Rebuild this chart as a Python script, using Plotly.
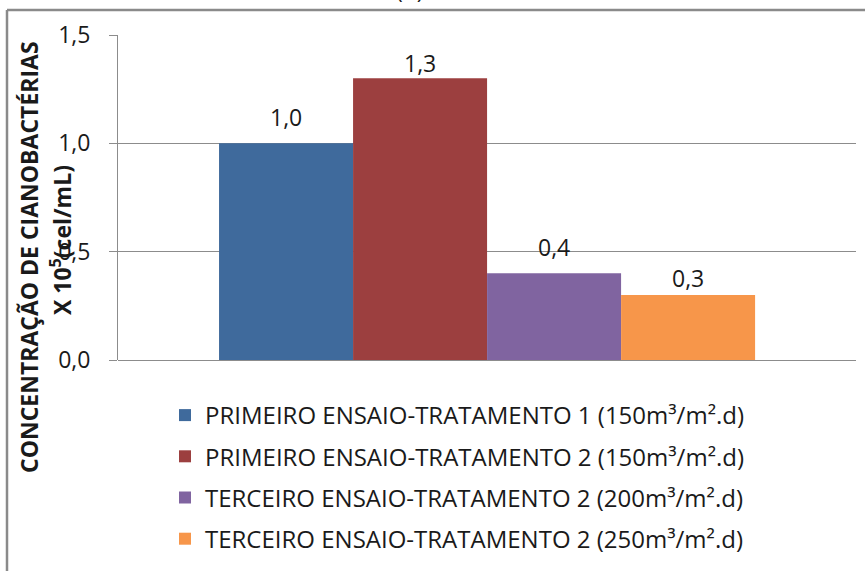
import plotly.graph_objects as go

# Series shown in the chart (one bar each)
series_names = [
    "PRIMEIRO ENSAIO-TRATAMENTO 1 (150m³/m².d)",
    "PRIMEIRO ENSAIO-TRATAMENTO 2 (150m³/m².d)",
    "TERCEIRO ENSAIO-TRATAMENTO 2 (200m³/m².d)",
    "TERCEIRO ENSAIO-TRATAMENTO 2 (250m³/m².d)",
]
values = [1.0, 1.3, 0.4, 0.3]
bar_colors = ["#3F6A9C", "#9C3F3F", "#8064A0", "#F7964A"]
y_ticks = [0.0, 0.5, 1.0, 1.5]
label_shift = [8, -3, 8, -1]  # vertical offset of each value label (px)

FONT = "Open Sans"
TXT = "#1a1a1a"
GRID = "#8c8c8c"

W, H = 865, 571
L, R, T, B = 118, 9, 35, 211
pw, ph = W - L - R, H - T - B


def px_x(x):
    return (x - L) / pw


def px_y(y):
    return (H - B - y) / ph


fig = go.Figure()
for i, (name, v, c) in enumerate(zip(series_names, values, bar_colors)):
    fig.add_trace(go.Bar(
        x=[i], y=[v], width=1, name=name,
        marker=dict(color=c, line=dict(width=0)),
        legendgroup=f"g{i}",
        hoverinfo="skip",
    ))

annotations = []
for i, (v, s) in enumerate(zip(values, label_shift)):
    annotations.append(dict(
        x=i, y=v, xref="x", yref="y",
        text=f"{v:.1f}".replace(".", ","),
        showarrow=False, yanchor="bottom", yshift=s,
        font=dict(family=FONT, size=23, color=TXT),
    ))

# axis title, two lines
annotations.append(dict(
    x=px_x(28.5), y=px_y(257.5), xref="paper", yref="paper",
    text="<b>CONCENTRAÇÃO DE CIANOBACTÉRIAS</b>", textangle=-90,
    showarrow=False, xanchor="center", yanchor="middle",
    font=dict(family=FONT, size=23, color=TXT),
))
annotations.append(dict(
    x=px_x(61), y=px_y(240), xref="paper", yref="paper",
    text="<b>X 10<sup>5</sup>(cel/mL)</b>", textangle=-90,
    showarrow=False, xanchor="center", yanchor="middle",
    font=dict(family=FONT, size=23, color=TXT),
))
# panel letter
annotations.append(dict(
    x=px_x(410), y=px_y(7), xref="paper", yref="paper",
    text="(b)", showarrow=False, xanchor="center", yanchor="bottom",
    font=dict(family=FONT, size=23, color=TXT),
))

shapes = [
    dict(type="line", xref="paper", yref="paper",
         x0=px_x(7), x1=px_x(870), y0=px_y(10), y1=px_y(10),
         line=dict(color="#8a8a8a", width=2.5)),
    dict(type="line", xref="paper", yref="paper",
         x0=px_x(7), x1=px_x(7), y0=px_y(10), y1=px_y(580),
         line=dict(color="#8a8a8a", width=2.5)),
]

fig.update_layout(
    width=W, height=H,
    margin=dict(l=L, r=R, t=T, b=B, autoexpand=False),
    paper_bgcolor="white", plot_bgcolor="white",
    separators=",.",
    barmode="overlay",
    showlegend=True,
    legend=dict(
        x=px_x(165), y=px_y(393), xanchor="left", yanchor="top",
        font=dict(family=FONT, size=24, color=TXT),
        tracegroupgap=7, itemwidth=30, bgcolor="rgba(0,0,0,0)",
    ),
    xaxis=dict(
        range=[-1.254, 4.253], showticklabels=False, showgrid=False,
        zeroline=False, showline=False, ticks="", fixedrange=True,
    ),
    yaxis=dict(
        range=[0, 1.5], tickvals=y_ticks, tickformat=".1f",
        showgrid=True, gridcolor=GRID, gridwidth=1,
        zeroline=True, zerolinecolor=GRID, zerolinewidth=1,
        showline=True, linecolor=GRID, linewidth=1,
        ticks="outside", ticklen=8, tickcolor=GRID,
        ticklabelstandoff=14,
        tickfont=dict(family=FONT, size=23, color=TXT),
    ),
    annotations=annotations,
    shapes=shapes,
)

fig.write_html("out.html")
